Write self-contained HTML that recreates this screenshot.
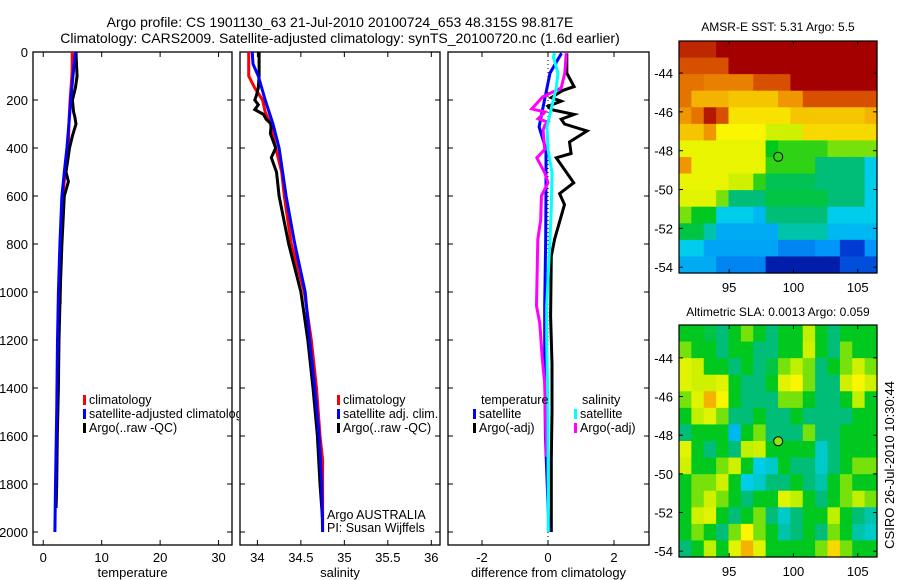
<!DOCTYPE html>
<html><head><meta charset="utf-8"><style>
html,body{margin:0;padding:0;background:#fff;}
svg{display:block;font-family:"Liberation Sans",sans-serif;}
</style></head><body>
<svg id="fig" width="900" height="580" viewBox="0 0 900 580" xmlns="http://www.w3.org/2000/svg">
<text x="340" y="27" font-size="14" text-anchor="middle">Argo profile: CS 1901130_63 21-Jul-2010 20100724_653 48.315S 98.817E</text>
<text x="340" y="43" font-size="14" text-anchor="middle">Climatology: CARS2009. Satellite-adjusted climatology: synTS_20100720.nc (1.6d earlier)</text>
<g id="g"></g>
</svg>
<script>
// ---------- data ----------
const depthTicks = [0,200,400,600,800,1000,1200,1400,1600,1800,2000];
const tempTicks = [0,10,20,30];
const salTicks = [34,34.5,35,35.5,36];
const salTickLabels = ["34","34.5","35","35.5","36"];
const diffTicks = [-2,0,2];
const lonTicks = [95,100,105];
const latTicks = [-44,-46,-48,-50,-52,-54];

const argoTDepth = [0,50,100,150,200,250,270,300,350,400,450,500,540,600,700,800,1000,1200,1400,1600,1800,1900];
const argoT = [5.6,5.7,5.8,5.5,5.0,5.2,5.4,5.6,5.0,4.5,4.2,3.9,4.3,3.6,3.4,3.2,2.9,2.7,2.6,2.4,2.3,2.2];
const climTDepth = [0,60,100,200,300,400,500,600,800,1000,1050];
const climT = [4.96,4.96,4.9,4.6,4.4,4.3,3.8,3.3,3.0,2.9,2.9];
const satTDepth = [0,100,200,300,400,500,600,800,1000,1200,1500,1800,2000];
const satT = [5.5,5.1,4.7,4.4,4.05,3.6,3.2,2.85,2.6,2.45,2.3,2.1,2.0];

const climSDepth = [0,100,150,200,250,300,400,500,600,800,1000,1200,1400,1600,1700,2000];
const climS = [33.9,33.9,33.97,34.06,34.09,34.15,34.21,34.28,34.31,34.39,34.54,34.62,34.68,34.72,34.75,34.75];
const satSDepth = [0,50,100,200,300,400,500,600,800,1000,1200,1400,1600,1800,2000];
const satS = [33.94,33.95,34.01,34.09,34.18,34.25,34.29,34.33,34.43,34.55,34.6,34.66,34.71,34.74,34.75];
const argoSDepth = [0,100,150,180,200,220,240,260,280,300,340,400,440,500,600,800,1000,1200,1400,1600,1800,1950];
const argoS = [34.02,34.02,34.01,33.99,33.97,34.01,33.97,34.07,34.1,34.16,34.15,34.21,34.16,34.22,34.25,34.36,34.5,34.58,34.64,34.69,34.72,34.75];

const dSatTDepth = [5,88,229,312,406,573,781,1058,1300,1600,2000];
const dSatT = [0.41,0.06,-0.15,-0.27,-0.06,-0.06,-0.07,-0.1,-0.1,-0.08,0.03];
const dSatSDepth = [5,20,88,150,229,312,406,503,650,781,1058,1200,1500,2000];
const dSatS = [0.21,0.16,0.3,0.25,0.11,-0.03,0,0.12,0.1,0.06,-0.04,-0.04,0,0.01];
const dArgoSDepth = [5,88,150,187,237,250,278,292,306,326,406,441,503,545,600,700,781,1058,1131,1269,1381,1687];
const dArgoS = [0.55,0.51,0.4,-0.16,-0.49,-0.09,-0.3,0.0,-0.1,-0.15,-0.1,-0.34,-0.1,0,-0.2,-0.22,-0.31,-0.35,-0.25,-0.18,-0.1,-0.05];
const dArgoTDepth = [5,88,144,160,190,205,226,240,260,280,300,329,375,423,441,545,590,636,780,850,1100,1300,1500,1700,2000];
const dArgoT = [0.57,0.57,0.79,0.45,0.1,0.4,0.0,0.1,0.79,0.4,0.5,1.18,0.65,0.7,0.25,0.78,0.35,0.5,0.2,0.1,0.08,0.12,0.12,0.1,0.1];

const sstGrid = [
[0.9,0.9,0.9,0.95,0.95,0.95,0.95,0.95,0.95,0.95,0.95,0.95,0.95,0.95,0.95,0.95],
[0.85,0.85,0.85,0.85,0.95,0.95,0.95,0.95,0.95,0.95,0.95,0.95,0.95,0.95,0.95,0.95],
[0.8,0.8,0.78,0.78,0.78,0.78,0.85,0.85,0.85,0.95,0.95,0.95,0.95,0.95,0.95,0.95],
[0.8,0.72,0.72,0.72,0.7,0.7,0.7,0.7,0.75,0.75,0.85,0.85,0.85,0.85,0.85,0.85],
[0.75,0.8,0.92,0.85,0.67,0.67,0.67,0.67,0.67,0.7,0.7,0.7,0.7,0.7,0.7,0.72],
[0.7,0.7,0.75,0.65,0.65,0.65,0.65,0.6,0.6,0.6,0.68,0.68,0.68,0.68,0.68,0.68],
[0.63,0.63,0.63,0.63,0.63,0.63,0.63,0.5,0.52,0.52,0.52,0.52,0.55,0.55,0.55,0.55],
[0.75,0.63,0.63,0.63,0.63,0.63,0.63,0.52,0.52,0.52,0.52,0.45,0.45,0.45,0.45,0.38],
[0.63,0.63,0.63,0.63,0.6,0.6,0.52,0.47,0.47,0.47,0.47,0.45,0.45,0.45,0.45,0.38],
[0.62,0.62,0.62,0.55,0.45,0.45,0.45,0.48,0.48,0.48,0.48,0.48,0.45,0.45,0.45,0.38],
[0.55,0.5,0.5,0.38,0.38,0.38,0.35,0.45,0.45,0.45,0.45,0.45,0.38,0.38,0.38,0.38],
[0.48,0.48,0.42,0.33,0.33,0.33,0.33,0.33,0.42,0.42,0.42,0.42,0.35,0.35,0.35,0.35],
[0.38,0.38,0.32,0.32,0.32,0.32,0.32,0.32,0.28,0.28,0.28,0.3,0.3,0.2,0.2,0.3],
[0.33,0.33,0.33,0.28,0.28,0.28,0.28,0.15,0.15,0.15,0.15,0.15,0.15,0.22,0.22,0.22]];
const slaGrid = [
[0.5,0.5,0.48,0.45,0.5,0.55,0.5,0.45,0.5,0.5,0.58,0.5,0.45,0.5,0.5,0.5],
[0.55,0.5,0.5,0.45,0.5,0.5,0.45,0.45,0.5,0.5,0.6,0.5,0.45,0.55,0.5,0.5],
[0.62,0.6,0.5,0.5,0.45,0.5,0.45,0.48,0.55,0.58,0.55,0.45,0.5,0.55,0.6,0.55],
[0.62,0.6,0.6,0.62,0.5,0.45,0.45,0.5,0.62,0.65,0.55,0.45,0.45,0.6,0.65,0.6],
[0.55,0.62,0.72,0.65,0.5,0.45,0.45,0.45,0.55,0.55,0.5,0.45,0.45,0.5,0.58,0.5],
[0.5,0.58,0.62,0.55,0.45,0.45,0.5,0.45,0.45,0.5,0.45,0.45,0.45,0.45,0.5,0.5],
[0.45,0.5,0.5,0.5,0.35,0.5,0.55,0.45,0.45,0.45,0.55,0.45,0.45,0.5,0.5,0.5],
[0.62,0.5,0.45,0.5,0.45,0.58,0.6,0.5,0.5,0.5,0.5,0.4,0.45,0.5,0.5,0.5],
[0.6,0.5,0.5,0.55,0.6,0.5,0.38,0.4,0.5,0.45,0.45,0.4,0.45,0.5,0.55,0.55],
[0.5,0.55,0.55,0.6,0.5,0.38,0.4,0.45,0.45,0.5,0.45,0.42,0.5,0.55,0.5,0.5],
[0.5,0.55,0.6,0.55,0.5,0.45,0.5,0.5,0.62,0.58,0.5,0.45,0.5,0.55,0.58,0.55],
[0.5,0.6,0.62,0.5,0.45,0.5,0.55,0.45,0.4,0.45,0.5,0.5,0.58,0.5,0.45,0.42],
[0.5,0.55,0.5,0.45,0.55,0.65,0.55,0.5,0.42,0.45,0.5,0.45,0.55,0.5,0.42,0.4],
[0.45,0.5,0.58,0.5,0.62,0.72,0.62,0.5,0.5,0.5,0.5,0.55,0.68,0.55,0.5,0.5]];
const floatLon = 98.817, floatLat = -48.315;
const sstFloatVal = 0.52, slaFloatVal = 0.56;

// ---------- helpers ----------
const NS = "http://www.w3.org/2000/svg";
const G = document.getElementById('g');
function el(tag, attrs, parent, txt){
  const e = document.createElementNS(NS, tag);
  for (const k in attrs) e.setAttribute(k, attrs[k]);
  if (txt !== undefined) e.textContent = txt;
  (parent || G).appendChild(e);
  return e;
}
const stops = [[0.1,[0,0,130]],[0.2,[0,60,210]],[0.3,[0,150,250]],[0.38,[0,205,235]],[0.45,[0,190,120]],[0.5,[0,200,30]],[0.58,[190,240,0]],[0.65,[250,245,0]],[0.75,[240,150,0]],[0.85,[215,80,0]],[0.95,[165,0,0]]];
function cmap(v){
  if (v <= stops[0][0]) return 'rgb('+stops[0][1]+')';
  for (let i=1;i<stops.length;i++){
    if (v <= stops[i][0]){
      const t=(v-stops[i-1][0])/(stops[i][0]-stops[i-1][0]);
      const c=stops[i-1][1].map((a,j)=>Math.round(a+(stops[i][1][j]-a)*t));
      return 'rgb('+c+')';
    }
  }
  return 'rgb('+stops[stops.length-1][1]+')';
}

// profile panels
const TOP=52, BOT=545;
const yD = d => TOP + d*0.24;
const panels = [
  {name:'temperature', x0:33, x1:232, v0:-1.75, v1:32.3, ticks:tempTicks, labels:tempTicks.map(String), title:'temperature'},
  {name:'salinity', x0:240, x1:440, v0:33.8, v1:36.1, ticks:salTicks, labels:salTickLabels, title:'salinity'},
  {name:'difference', x0:448, x1:649, v0:-3.03, v1:3.06, ticks:diffTicks, labels:diffTicks.map(String), title:'difference from climatology'}
];
panels.forEach(p => { p.x = v => p.x0 + (v - p.v0)/(p.v1 - p.v0)*(p.x1 - p.x0); });

panels.forEach((p, pi) => {
  const ax = el('g', {});
  
  
  p.g = ax;
  const box = el('rect', {x:p.x0, y:TOP, width:p.x1-p.x0, height:BOT-TOP, fill:'#fff', stroke:'#000', 'stroke-width':1.3}, ax);
  
  
  p.ticks.forEach((t, i) => {
    const xx = p.x(t);
    el('line', {x1:xx, x2:xx, y1:BOT, y2:BOT-5, stroke:'#000'}, ax);
    el('line', {x1:xx, x2:xx, y1:TOP, y2:TOP+5, stroke:'#000'}, ax);
    const tl = el('text', {x:xx, y:562, 'font-size':13, 'text-anchor':'middle'}, ax, p.labels[i]);
    
    
  });
  depthTicks.forEach(d => {
    el('line', {x1:p.x0, x2:p.x0+5, y1:yD(d), y2:yD(d), stroke:'#000'}, ax);
    el('line', {x1:p.x1, x2:p.x1-5, y1:yD(d), y2:yD(d), stroke:'#000'}, ax);
    if (pi === 0) {
      const dl = el('text', {x:28, y:yD(d)+5, 'font-size':13, 'text-anchor':'end'}, ax, String(d));
      
      
    }
  });
  const at = el('text', {x:(p.x0+p.x1)/2, y:577, 'font-size':13, 'text-anchor':'middle'}, ax, p.title);
  
  
});

function line(p, depths, vals, color, name){
  const pts = depths.map((d,i) => p.x(vals[i]).toFixed(1)+','+yD(d).toFixed(1)).join(' ');
  const l = el('polyline', {points:pts, fill:'none', stroke:color, 'stroke-width':3, 'stroke-linejoin':'miter'}, p.g);
  
  
}
const zl = el('line', {x1:panels[2].x(0), x2:panels[2].x(0), y1:TOP, y2:BOT, stroke:'#000', 'stroke-dasharray':'1,3'}, panels[2].g);



line(panels[0], climTDepth, climT, '#ff0000', 'temperature-climatology-line');
line(panels[0], argoTDepth, argoT, '#000000', 'temperature-argo-line');
line(panels[0], satTDepth, satT, '#0000ff', 'temperature-satellite-line');
line(panels[1], climSDepth, climS, '#ff0000', 'salinity-climatology-line');
line(panels[1], argoSDepth, argoS, '#000000', 'salinity-argo-line');
line(panels[1], satSDepth, satS, '#0000ff', 'salinity-satellite-line');
line(panels[2], dArgoTDepth, dArgoT, '#000000', 'diff-temperature-argo-line');
line(panels[2], dSatTDepth, dSatT, '#0000ff', 'diff-temperature-satellite-line');
line(panels[2], dArgoSDepth, dArgoS, '#ff00ff', 'diff-salinity-argo-line');
line(panels[2], dSatSDepth, dSatS, '#00ffff', 'diff-salinity-satellite-line');

function legendEntry(parent, x, y, color, label){
  const g = el('g', {}, parent);
  
  
  el('rect', {x:x, y:y-9, width:3, height:10, fill:color}, g);
  el('text', {x:x+6, y:y, 'font-size':12.5}, g, label);
}
el('clipPath', {id:'c1'}).appendChild(el('rect', {x:0, y:0, width:239, height:580}));
const lg1 = el('g', {'clip-path':'url(#c1)'});


legendEntry(lg1, 83, 404, '#ff0000', 'climatology');
legendEntry(lg1, 83, 418, '#0000ff', 'satellite-adjusted climatology');
legendEntry(lg1, 83, 432, '#000000', 'Argo(..raw -QC)');
const lg2 = el('g', {});


legendEntry(lg2, 337, 404, '#ff0000', 'climatology');
legendEntry(lg2, 337, 418, '#0000ff', 'satellite adj. clim.');
legendEntry(lg2, 337, 432, '#000000', 'Argo(..raw -QC)');
const cr = el('text', {x:327, y:519, 'font-size':12.5});
cr.textContent = 'Argo AUSTRALIA';


const pi2 = el('text', {x:327, y:532, 'font-size':12.5});
pi2.textContent = 'PI: Susan Wijffels';


const lg3 = el('g', {});


el('text', {x:481, y:404, 'font-size':12.5}, lg3, 'temperature');
el('text', {x:582, y:404, 'font-size':12.5}, lg3, 'salinity');
legendEntry(lg3, 473, 418, '#0000ff', 'satellite');
legendEntry(lg3, 473, 432, '#000000', 'Argo(-adj)');
legendEntry(lg3, 574, 418, '#00ffff', 'satellite');
legendEntry(lg3, 574, 432, '#ff00ff', 'Argo(-adj)');

// ---------- maps ----------
function drawMap(name, grid, top, bottom, latTop, latBot, title, titleY, fv){
  const L=679, R=877, lon0=91.1, lon1=106.5;
  const mx = v => L + (v-lon0)/(lon1-lon0)*(R-L);
  const my = v => top + (latTop - v)/(latTop - latBot)*(bottom-top);
  const g = el('g', {});
  
  
  const rows = grid.length, cols = grid[0].length;
  const cw = (R-L)/cols, ch = (bottom-top)/rows;
  grid.forEach((row, r) => row.forEach((v, c) => {
    const cell = el('rect', {x:(L+c*cw).toFixed(2), y:(top+r*ch).toFixed(2), width:(cw+0.6).toFixed(2), height:(ch+0.6).toFixed(2), fill:cmap(v)}, g);
    
    
  }));
  el('rect', {x:L, y:top, width:R-L, height:bottom-top, fill:'none', stroke:'#000', 'stroke-width':1.2}, g);
  lonTicks.forEach(t => {
    el('line', {x1:mx(t), x2:mx(t), y1:bottom, y2:bottom-4, stroke:'#000'}, g);
    el('line', {x1:mx(t), x2:mx(t), y1:top, y2:top+4, stroke:'#000'}, g);
    const tl = el('text', {x:mx(t), y:bottom+19, 'font-size':13, 'text-anchor':'middle'}, g, String(t));
    
    
  });
  latTicks.forEach(t => {
    el('line', {x1:L, x2:L+4, y1:my(t), y2:my(t), stroke:'#000'}, g);
    el('line', {x1:R, x2:R-4, y1:my(t), y2:my(t), stroke:'#000'}, g);
    const tl = el('text', {x:673, y:my(t)+5, 'font-size':13, 'text-anchor':'end'}, g, String(t));
    
    
  });
  const mk = el('circle', {cx:mx(floatLon), cy:my(floatLat), r:4.5, fill:cmap(fv), stroke:'#000', 'stroke-width':1}, g);
  
  
  const tt = el('text', {x:(L+R)/2, y:titleY, 'font-size':12, 'text-anchor':'middle'}, g, title);
  
  
}
drawMap('sst-map', sstGrid, 41, 273, -42.35, -54.3, 'AMSR-E SST: 5.31 Argo: 5.5', 31, sstFloatVal);
drawMap('sla-map', slaGrid, 325, 557, -42.3, -54.3, 'Altimetric SLA: 0.0013 Argo: 0.059', 316, slaFloatVal);
const st = el('text', {x:0, y:0, 'font-size':13, 'text-anchor':'middle', transform:'translate(894,465) rotate(-90)'});
st.textContent = 'CSIRO 26-Jul-2010 10:30:44';


</script>
</body></html>
